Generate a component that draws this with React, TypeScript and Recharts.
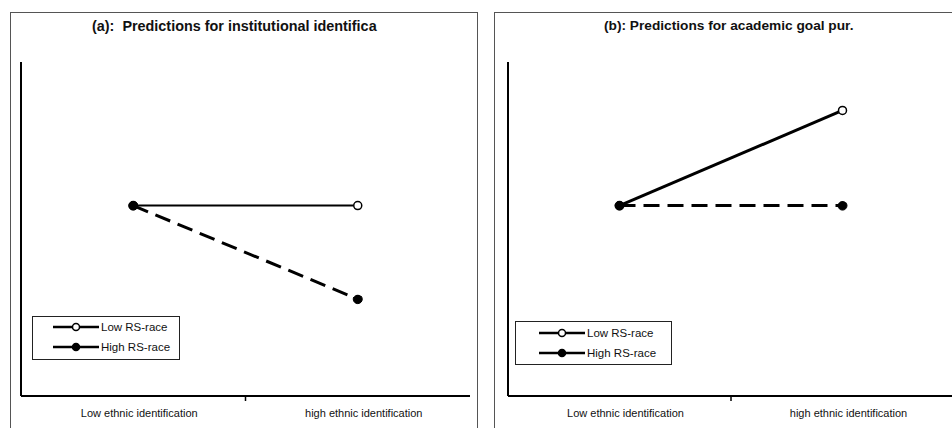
import React from "react";
import { LineChart, Line, XAxis, YAxis } from "recharts";

const categories = ["Low ethnic identification", "high ethnic identification"];
const seriesNames = ["Low RS-race", "High RS-race"];
const titleA = "(a):  Predictions for institutional identifica";
const titleB = "(b): Predictions for academic goal pur.";
const panelALow = [5.7, 5.7];
const panelAHigh = [5.7, 2.9];
const panelBLow = [5.7, 8.55];
const panelBHigh = [5.7, 5.7];

const FONT = '"Liberation Sans", Arial, sans-serif';

const buildRows = (low: number[], high: number[]) =>
  categories.map((c, i) => ({ x: i + 0.5, cat: c, low: low[i], high: high[i] }));

const Tick = (props: any) => {
  const { x, y, payload } = props;
  if (payload.value === 1) {
    return <line x1={x} x2={x} y1={y} y2={y + 5} stroke="#000" strokeWidth={1.5} />;
  }
  const label = categories[Math.round(payload.value - 0.5)];
  return (
    <text x={x + 6} y={y + 17} textAnchor="middle" dominantBaseline="central" fontSize={11} fill="#111" fontFamily={FONT}>
      {label}
    </text>
  );
};

type PanelProps = {
  left: number;
  width: number;
  marginLeft: number;
  marginRight: number;
  title: string;
  titleLeft: number;
  titleSize: number;
  low: number[];
  high: number[];
  lowWidth: number;
  legend: { left: number; top: number; width: number; height: number; lineX: number; rowY: number[] };
};

const Panel = (p: PanelProps) => {
  const rows = buildRows(p.low, p.high);
  const lg = p.legend;
  return (
    <>
      <div
        style={{
          position: "absolute",
          left: p.left,
          top: 12,
          width: p.width,
          height: 430,
          border: "1px solid #555",
          boxSizing: "border-box",
        }}
      />
      <div
        style={{
          position: "absolute",
          left: p.titleLeft,
          top: 18,
          fontFamily: FONT,
          fontWeight: "bold",
          fontSize: p.titleSize,
          lineHeight: "16px",
          whiteSpace: "pre",
          color: "#111",
        }}
      >
        {p.title}
      </div>
      <div style={{ position: "absolute", left: p.left, top: 12 }}>
        <LineChart
          width={p.width}
          height={416}
          data={rows}
          margin={{ top: 50, left: p.marginLeft - 10, right: p.marginRight, bottom: 2 }}
        >
          <XAxis
            dataKey="x"
            type="number"
            domain={[0, 2]}
            ticks={[0.5, 1, 1.5]}
            tick={<Tick />}
            tickLine={false}
            tickSize={0}
            tickMargin={0}
            height={30}
            axisLine={{ stroke: "#000", strokeWidth: 2 }}
            interval={0}
          />
          <YAxis
            domain={[0, 10]}
            tick={false}
            tickLine={false}
            width={10}
            axisLine={{ stroke: "#000", strokeWidth: 2 }}
          />
          <Line
            dataKey="low"
            name={seriesNames[0]}
            stroke="#000"
            strokeWidth={p.lowWidth}
            dot={{ r: 4, fill: "#fff", stroke: "#000", strokeWidth: 1.5 }}
            isAnimationActive={false}
          />
          <Line
            dataKey="high"
            name={seriesNames[1]}
            stroke="#000"
            strokeWidth={3}
            strokeDasharray="16 8"
            dot={{ r: 4.5, fill: "#000", stroke: "#000", strokeWidth: 1 }}
            isAnimationActive={false}
          />
        </LineChart>
      </div>
      <div
        style={{
          position: "absolute",
          left: lg.left,
          top: lg.top,
          width: lg.width,
          height: lg.height,
          border: "1.5px solid #222",
          boxSizing: "border-box",
          background: "#fff",
        }}
      >
        {seriesNames.map((name, i) => (
          <div
            key={name}
            style={{ position: "absolute", left: 0, top: lg.rowY[i] - 8, height: 16, display: "flex", alignItems: "center" }}
          >
            <svg width={lg.lineX + 48} height={16} style={{ display: "block" }}>
              <line x1={lg.lineX} x2={lg.lineX + 46} y1={8} y2={8} stroke="#000" strokeWidth={2.5} />
              <circle cx={lg.lineX + 23} cy={8} r={3.5} fill={i === 0 ? "#fff" : "#000"} stroke="#000" strokeWidth={1.5} />
            </svg>
            <span style={{ fontFamily: FONT, fontSize: 11.5, color: "#111", whiteSpace: "nowrap" }}>{name}</span>
          </div>
        ))}
      </div>
    </>
  );
};

export default function App() {
  return (
    <div style={{ position: "absolute", left: 0, top: 0, width: 952, height: 428, overflow: "hidden", background: "#fff" }}>
      <Panel
        left={10}
        width={468}
        marginLeft={11}
        marginRight={8}
        title={titleA}
        titleLeft={92}
        titleSize={14.4}
        low={panelALow}
        high={panelAHigh}
        lowWidth={2}
        legend={{ left: 32, top: 316, width: 148, height: 44, lineX: 20, rowY: [10, 30] }}
      />
      <Panel
        left={494}
        width={460}
        marginLeft={14}
        marginRight={0}
        title={titleB}
        titleLeft={604}
        titleSize={13.7}
        low={panelBLow}
        high={panelBHigh}
        lowWidth={3}
        legend={{ left: 515, top: 321, width: 157, height: 44, lineX: 23, rowY: [11, 31] }}
      />
    </div>
  );
}
